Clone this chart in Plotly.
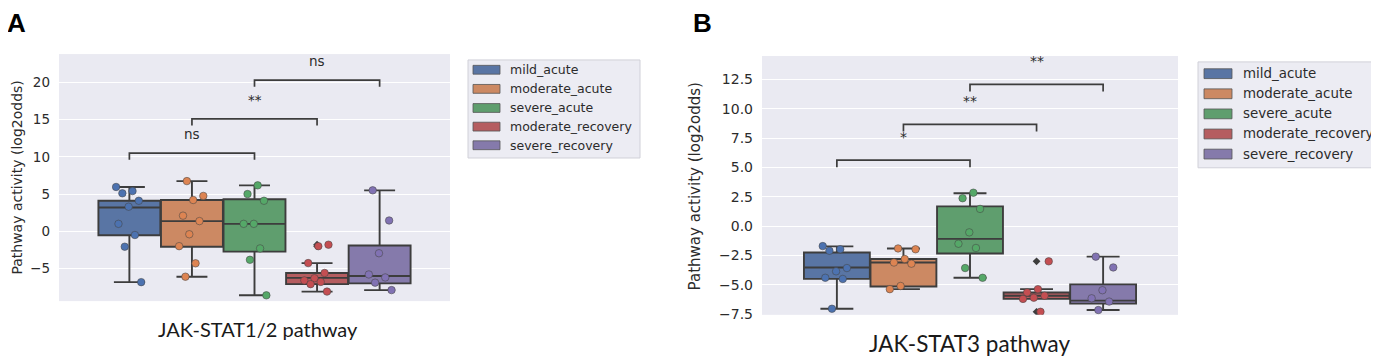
import numpy as np
import plotly.graph_objects as go

W, H = 1379, 356

groups = ["mild_acute", "moderate_acute", "severe_acute", "moderate_recovery", "severe_recovery"]
box_colors = ["#5975a4", "#cc8963", "#5f9e6e", "#b55d60", "#857aab"]
point_colors = ["#4c72b0", "#dd8452", "#55a868", "#c44e52", "#8172b3"]

# ---------------- Panel A: JAK-STAT1/2 ----------------
A_q1 = [-0.53, -2.07, -2.73, -7.1, -7.0]
A_median = [3.2, 1.37, 1.0, -6.26, -6.0]
A_q3 = [4.1, 4.2, 4.3, -5.6, -1.9]
A_lower = [-6.83, -6.1, -8.6, -8.1, -7.9]
A_upper = [5.95, 6.74, 6.17, -4.27, 5.5]
A_points = [
    [5.95, 5.4, 5.1, 4.1, 3.3, 1.0, -0.5, -2.07, -6.83],
    [6.74, 4.75, 4.2, 2.1, 1.37, -0.4, -2.0, -4.3, -6.1],
    [6.17, 5.0, 4.1, 1.0, 1.0, -2.3, -3.83, -8.6],
    [-1.8, -2.0, -4.27, -5.6, -6.3, -6.6, -6.8, -7.1, -8.1],
    [5.5, 1.45, -2.95, -5.8, -6.2, -6.9, -7.9],
]
A_pairs = [(0, 2), (1, 3), (2, 4)]
A_heights = [10.5, 15.1, 20.3]
A_labels = ["ns", "**", "ns"]
A_title = "JAK-STAT1/2 pathway"
A_range = [-9.38, 23.8]

# ---------------- Panel B: JAK-STAT3 ----------------
B_q1 = [-4.49, -5.15, -2.33, -6.2, -6.6]
B_median = [-3.52, -3.1, -1.08, -5.93, -6.35]
B_q3 = [-2.24, -2.8, 1.69, -5.65, -4.96]
B_lower = [-7.04, -5.37, -4.4, -6.2, -7.15]
B_upper = [-1.72, -1.9, 2.8, -5.37, -2.6]
B_points = [
    [-1.7, -1.97, -2.1, -3.57, -3.85, -4.4, -4.5, -7.04],
    [-1.9, -1.97, -2.8, -3.1, -3.2, -5.1, -5.37],
    [2.85, 2.38, 1.47, -0.53, -1.5, -1.86, -3.57, -4.4],
    [-3.0, -5.37, -5.65, -5.93, -6.1, -6.2, -7.3],
    [-2.6, -3.52, -5.46, -6.15, -6.43, -7.15],
]
B_pairs = [(0, 2), (1, 3), (2, 4)]
B_heights = [5.62, 8.67, 12.08]
B_labels = ["*", "**", "**"]
B_title = "JAK-STAT3 pathway"
B_range = [-7.56, 14.5]

y_title = "Pathway activity (log2odds)"

LINE = "#3d3d3d"
TXT = "#2b2b2b"
FONT = "DejaVu Sans"

fig = go.Figure()

BOXW = 0.16


def pos(i):
    return (i - (len(groups) - 1) / 2) * BOXW


def add_panel(xa, ya, q1, med, q3, lo, hi, pts, pairs, heights, labels, yr, lab_shift, lab_size):
    for i, g in enumerate(groups):
        fig.add_trace(go.Box(
            x=[pos(i)], q1=[q1[i]], median=[med[i]], q3=[q3[i]],
            lowerfence=[lo[i]], upperfence=[hi[i]],
            width=BOXW * 0.99, whiskerwidth=0.5,
            fillcolor=box_colors[i], line=dict(color=LINE, width=1.9),
            boxpoints=False, showlegend=False, hoverinfo="skip",
            xaxis=xa, yaxis=ya,
        ))
    # fliers (seaborn-style diamonds) for values clearly outside whiskers
    for i, g in enumerate(groups):
        fl = [v for v in pts[i] if v > hi[i] + 0.2 or v < lo[i] - 0.2]
        if fl:
            fig.add_trace(go.Scatter(
                x=[pos(i)] * len(fl), y=fl, mode="markers",
                marker=dict(symbol="diamond", size=6, color=LINE),
                showlegend=False, hoverinfo="skip", xaxis=xa, yaxis=ya,
            ))
    # strip points with deterministic jitter
    for i, g in enumerate(groups):
        n = len(pts[i])
        offs = [0.034 * (2 * ((k * 0.618034 + 0.31 * i) % 1.0) - 1) for k in range(n)]
        fig.add_trace(go.Scatter(
            x=[pos(i) + o for o in offs], y=pts[i], mode="markers",
            marker=dict(size=7.5, color=point_colors[i],
                        line=dict(color="rgba(70,70,70,0.55)", width=1)),
            showlegend=False, hoverinfo="skip", xaxis=xa, yaxis=ya,
        ))
    tip = 0.027 * (yr[1] - yr[0])
    for (a, b), h, lab in zip(pairs, heights, labels):
        fig.add_trace(go.Scatter(
            x=[pos(a), pos(a), pos(b), pos(b)], y=[h - tip, h, h, h - tip],
            mode="lines", line=dict(color=LINE, width=1.7),
            showlegend=False, hoverinfo="skip", xaxis=xa, yaxis=ya,
        ))
        fig.add_annotation(
            x=(pos(a) + pos(b)) / 2, y=h, xref=xa, yref=ya,
            text=lab, showarrow=False, xanchor="center", yanchor="bottom", yshift=lab_shift,
            font=dict(family=FONT, size=lab_size, color=TXT),
        )


add_panel("x", "y", A_q1, A_median, A_q3, A_lower, A_upper, A_points,
          A_pairs, A_heights, A_labels, A_range, 9, 13.5)
add_panel("x2", "y2", B_q1, B_median, B_q3, B_lower, B_upper, B_points,
          B_pairs, B_heights, B_labels, B_range, 13, 14)


def px(x):
    return x / W


def py(y):
    return 1 - y / H


axis_common = dict(showgrid=False, zeroline=False, showticklabels=False, ticks="",
                   range=[-0.5, 0.5], showline=False, fixedrange=True)
yaxis_common = dict(showgrid=True, gridcolor="white", gridwidth=1.4, zeroline=False,
                    ticks="", showline=False, ticklabelstandoff=8)

fig.update_layout(
    width=W, height=H, margin=dict(l=0, r=0, t=0, b=0),
    paper_bgcolor="white", plot_bgcolor="#eaeaf2",
    showlegend=False,
    xaxis=dict(domain=[px(51), px(442)], anchor="y", **axis_common),
    yaxis=dict(domain=[py(299), py(47)], anchor="x", range=A_range, dtick=5, tick0=0,
               tickfont=dict(family=FONT, size=13.5, color=TXT), **yaxis_common),
    xaxis2=dict(domain=[px(754), px(1170)], anchor="y2", **axis_common),
    yaxis2=dict(domain=[py(313), py(49)], anchor="x2", range=B_range, dtick=2.5, tick0=0,
                tickformat=".1f", tickfont=dict(family=FONT, size=14, color=TXT),
                **yaxis_common),
)

# y-axis titles
fig.add_annotation(x=px(9), y=py(173), xref="paper", yref="paper", text=y_title,
                   textangle=-90, showarrow=False, xanchor="center", yanchor="middle",
                   font=dict(family=FONT, size=14, color=TXT))
fig.add_annotation(x=px(687), y=py(182), xref="paper", yref="paper", text=y_title,
                   textangle=-90, showarrow=False, xanchor="center", yanchor="middle",
                   font=dict(family=FONT, size=15, color=TXT))

# bottom titles
fig.add_annotation(x=px(250), y=py(327), xref="paper", yref="paper", text=A_title,
                   showarrow=False, xanchor="center", yanchor="middle",
                   font=dict(family="Lato", size=20, color="#1a1a1a"))
fig.add_annotation(x=px(962), y=py(342), xref="paper", yref="paper", text=B_title,
                   showarrow=False, xanchor="center", yanchor="middle",
                   font=dict(family="Lato", size=22.5, color="#1a1a1a"))

# panel labels
fig.add_annotation(x=px(8), y=py(15), xref="paper", yref="paper", text="<b>A</b>",
                   showarrow=False, xanchor="center", yanchor="middle",
                   font=dict(family="Liberation Sans", size=26, color="black"))
fig.add_annotation(x=px(694), y=py(15), xref="paper", yref="paper", text="<b>B</b>",
                   showarrow=False, xanchor="center", yanchor="middle",
                   font=dict(family="Liberation Sans", size=26, color="black"))


# manual legends (matplotlib style)
def add_legend(x0, y0, x1, y1, patch_x0, patch_w, patch_h, text_x, ys, fsize):
    fig.add_shape(type="rect", xref="paper", yref="paper",
                  x0=px(x0), x1=px(x1), y0=py(y1), y1=py(y0),
                  fillcolor="#ececf3", line=dict(color="#d0d0d8", width=1), layer="below")
    for i, g in enumerate(groups):
        yc = ys[i]
        fig.add_shape(type="rect", xref="paper", yref="paper",
                      x0=px(patch_x0), x1=px(patch_x0 + patch_w),
                      y0=py(yc + patch_h / 2), y1=py(yc - patch_h / 2),
                      fillcolor=box_colors[i], line=dict(color="#555555", width=0.8))
        fig.add_annotation(x=px(text_x), y=py(yc), xref="paper", yref="paper",
                           text=g, showarrow=False, xanchor="left", yanchor="middle",
                           font=dict(family=FONT, size=fsize, color=TXT))


add_legend(460, 53, 632, 153, 465, 27, 9, 500, [63, 82.5, 102, 121, 140], 12.5)
add_legend(1190, 55, 1373, 163, 1196, 28, 10, 1233, [67, 87.5, 108, 128.5, 149], 13.4)

fig.write_html("out.html")
